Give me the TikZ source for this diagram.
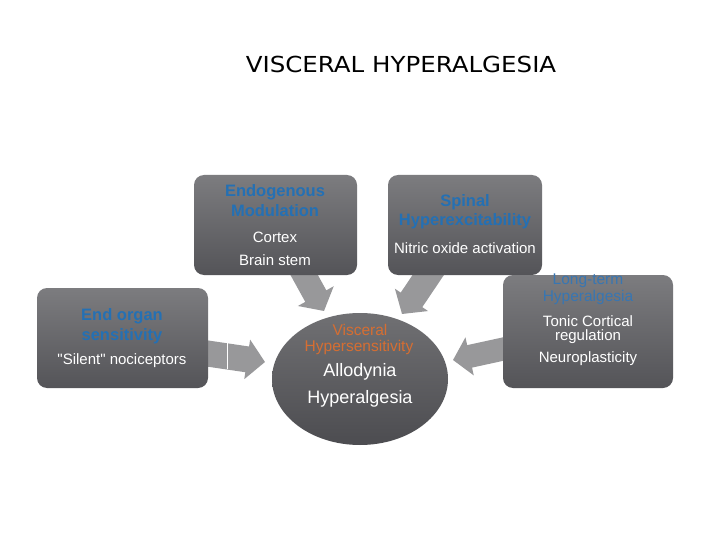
\documentclass[tikz,border=0pt]{standalone}
\usepackage{fontspec}
\setmainfont{Liberation Sans}
\newfontfamily\titlefont{DejaVu Sans}
\newfontfamily\rawsans[Ligatures=TeXOff]{Liberation Sans}
\usetikzlibrary{arrows.meta,shapes.geometric}
\definecolor{boxtop}{RGB}{124,124,127}
\definecolor{boxbot}{RGB}{84,84,88}
\definecolor{elltop}{RGB}{112,112,115}
\definecolor{ellbot}{RGB}{76,76,80}
\definecolor{hdblue}{RGB}{36,112,180}
\definecolor{ltblue}{RGB}{56,118,178}
\definecolor{hdorange}{RGB}{214,110,50}
\definecolor{arrowgray}{RGB}{152,152,154}
\tikzset{
  panel/.style={rectangle, rounded corners=10pt, top color=boxtop, bottom color=boxbot, draw=none, inner sep=0pt},
  blob/.style={ellipse, top color=elltop, bottom color=ellbot, draw=none, inner sep=0pt},
  headtxt/.style={text=hdblue, font=\bfseries\fontsize{16.5}{19}\selectfont, inner sep=0pt},
  lttxt/.style={text=ltblue, font=\fontsize{15.5}{17}\selectfont, inner sep=0pt},
  ortxt/.style={text=hdorange, font=\fontsize{15.5}{17}\selectfont, inner sep=0pt},
  whtxt/.style={text=white, font=\fontsize{15}{17}\selectfont, inner sep=0pt},
  bigwh/.style={text=white, font=\fontsize{18}{20}\selectfont, inner sep=0pt},
  blockarrow/.style={draw=arrowgray, line width=#1, line cap=butt},
}
\begin{document}
\begin{tikzpicture}[x=1pt,y=-1pt]
\useasboundingbox (0,0) rectangle (720,540);
\fill[white] (0,0) rectangle (720,540);

% title
\node[font=\titlefont\fontsize{24.5}{28}\selectfont, inner sep=0pt] (title) at (401,64) {\scalebox{1}[0.9]{VISCERAL HYPERALGESIA}};

% arrow end coordinates
\coordinate (a1s) at (204,353);
\coordinate (a1t) at (265,362);
\coordinate (a2s) at (297,262);
\coordinate (a2t) at (324,311);
\coordinate (a3s) at (437,262);
\coordinate (a3t) at (402,314);
\coordinate (a4s) at (508,348);
\coordinate (a4t) at (453,360);

% arrows (behind panels)
\draw[blockarrow=26pt, -{Triangle[length=18pt,width=39pt]}] (a1s) -- (a1t);
\draw[blockarrow=24pt, -{Triangle[length=17pt,width=40pt]}] (a2s) -- (a2t);
\draw[blockarrow=26pt, -{Triangle[length=17pt,width=39pt]}] (a3s) -- (a3t);
\draw[blockarrow=23pt, -{Triangle[length=17pt,width=38pt]}] (a4s) -- (a4t);
\coordinate (seamtop) at (227.5,343);
\coordinate (seambot) at (227.5,369);
\draw[white, line width=0.8pt] (seamtop) -- (seambot);

% panels
\node[panel, minimum width=163pt, minimum height=100pt] (b1) at (275.5,225) {};
\node[panel, minimum width=154pt, minimum height=100pt] (b2) at (465,225) {};
\node[panel, minimum width=171pt, minimum height=100pt] (b3) at (122.5,338) {};
\node[panel, minimum width=170pt, minimum height=113pt] (b4) at (588,331.5) {};
\node[blob, minimum width=176pt, minimum height=132pt] (el) at (360,379) {};

% panel 1 texts
\node[headtxt] (t1a) at (275,192) {Endogenous};
\node[headtxt] (t1b) at (275,211) {Modulation};
\node[whtxt] (t1c) at (275,237) {Cortex};
\node[whtxt] (t1d) at (275,260) {Brain stem};

% panel 2 texts
\node[headtxt] (t2a) at (465,202) {Spinal};
\node[headtxt] (t2b) at (465,221) {Hyperexcitability};
\node[whtxt] (t2c) at (465,248) {Nitric oxide activation};

% panel 3 texts
\node[headtxt] (t3a) at (122,316) {End organ};
\node[headtxt] (t3b) at (122,336) {sensitivity};
\node[whtxt] (t3c) at (122,361) {\rawsans "Silent" nociceptors};

% panel 4 texts
\node[lttxt] (t4a) at (588,281) {Long-term};
\node[lttxt] (t4b) at (588,297) {Hyperalgesia};
\node[whtxt] (t4c) at (588,321) {Tonic Cortical};
\node[whtxt] (t4d) at (588,337) {regulation};
\node[whtxt] (t4e) at (588,359) {Neuroplasticity};

% ellipse texts
\node[ortxt] (t5a) at (360,330) {Visceral};
\node[ortxt] (t5b) at (359,347) {Hypersensitivity};
\node[bigwh] (t5c) at (360,372) {Allodynia};
\node[bigwh] (t5d) at (360,399) {Hyperalgesia};
\end{tikzpicture}
\end{document}
